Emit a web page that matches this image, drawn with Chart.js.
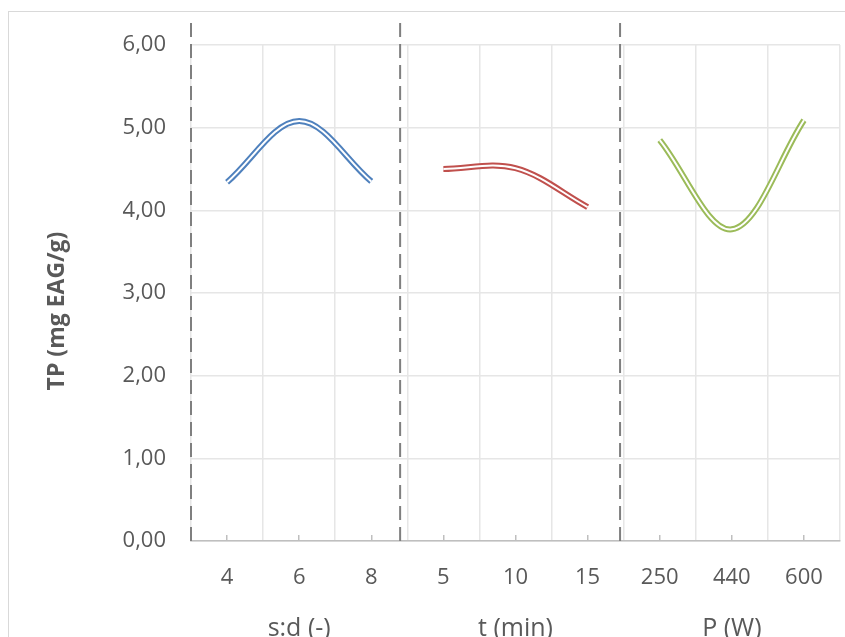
<!DOCTYPE html>
<html lang="en">
<head>
<meta charset="UTF-8" />
<title>TP vs s:d, t, P</title>
<script src="https://cdn.jsdelivr.net/npm/chart.js"></script>
<style>
    html, body {
        margin: 0;
        padding: 0;
        background: #ffffff;
        overflow: hidden;
    }
    .frame {
        position: absolute;
        left: 8px;
        top: 11px;
        width: 900px;
        height: 700px;
        border: 1px solid #d9d9d9;
    }
    #chart {
        position: absolute;
        left: 0;
        top: 0;
    }
</style>
</head>
<body>
<div class="frame"></div>
<canvas id="chart" width="845" height="637"></canvas>
<script>
// categories of the three factors, in plotting order (one slot per category)
const catLabels = ['4', '6', '8', '5', '10', '15', '250', '440', '600'];
const catPos = [0.5, 1.5, 2.5, 3.5, 4.5, 5.5, 6.5, 7.5, 8.5];
const groupTitles = ['s:d (-)', 't (min)', 'P (W)'];
const groupCenter = [1.5, 4.5, 7.5];
const yTicks = [0, 1, 2, 3, 4, 5, 6];
const yTitle = 'TP (mg EAG/g)';

// dashed separators between the factor panels
const separators = [0, 2.9, 5.95];
const sepTop = 6.35;

// TP values (mg EAG/g)
const tpSolvent = [4.34, 5.08, 4.35];
const tpTime = [4.50, 4.51, 4.04];
const tpPower = [4.85, 3.77, 5.09];

const fontFamily = '"Open Sans", "Noto Sans", sans-serif';
const textColor = '#595959';

// double line: a wide coloured stroke with a thin white one on top
function doubleLine(values, offset, color) {
    const pts = values.map((v, i) => ({ x: catPos[offset + i], y: v }));
    return [
        { data: pts, borderColor: color, borderWidth: 6, tension: 0.35, order: 2 },
        { data: pts, borderColor: '#ffffff', borderWidth: 2, tension: 0.35, order: 1 }
    ];
}

const datasets = [
    ...separators.map(s => ({
        data: [{ x: s, y: 0 }, { x: s, y: sepTop }],
        borderColor: '#7f7f7f',
        borderWidth: 2,
        borderDash: [14, 7],
        tension: 0,
        clip: false,
        order: 3
    })),
    ...doubleLine(tpSolvent, 0, '#4f81bd'),
    ...doubleLine(tpTime, 3, '#c0504d'),
    ...doubleLine(tpPower, 6, '#9bbb59')
];

// axis titles: group names under the tick labels and the rotated y title
const axisText = {
    id: 'axisText',
    afterDraw(chart) {
        const { ctx, scales } = chart;
        ctx.save();
        ctx.fillStyle = textColor;
        ctx.textAlign = 'center';
        ctx.textBaseline = 'alphabetic';
        ctx.font = '25px ' + fontFamily;
        groupTitles.forEach((t, i) => {
            ctx.fillText(t, scales.x.getPixelForValue(groupCenter[i]), 636);
        });
        ctx.textBaseline = 'middle';
        ctx.translate(57, 311);
        ctx.rotate(-Math.PI / 2);
        ctx.font = 'bold 23px ' + fontFamily;
        ctx.fillText(yTitle, 0, 0);
        ctx.restore();
    }
};

new Chart(document.getElementById('chart'), {
    type: 'line',
    data: { datasets },
    plugins: [axisText],
    options: {
        responsive: false,
        animation: false,
        layout: { autoPadding: false, padding: { top: 45, right: 5, left: 0, bottom: 0 } },
        plugins: {
            legend: { display: false },
            tooltip: { enabled: false }
        },
        elements: {
            point: { radius: 0, hoverRadius: 0 },
            line: { borderCapStyle: 'butt', fill: false }
        },
        scales: {
            x: {
                type: 'linear',
                min: 0,
                max: 9,
                ticks: { display: false, stepSize: 1 },
                grid: { color: '#e6e6e6', lineWidth: 1.5, drawTicks: false },
                border: { color: '#bfbfbf', width: 1.5 },
                afterFit: s => { s.height = 0; s.paddingLeft = 0; s.paddingRight = 0; }
            },
            xl: {
                type: 'linear',
                position: 'bottom',
                min: 0,
                max: 9,
                afterBuildTicks: s => { s.ticks = catPos.map(v => ({ value: v })); },
                ticks: {
                    callback: (v, i) => catLabels[i],
                    autoSkip: false,
                    maxRotation: 0,
                    color: textColor,
                    font: { family: fontFamily, size: 22 },
                    padding: 30
                },
                grid: { drawOnChartArea: false, drawTicks: true, tickLength: -6, color: '#bfbfbf', lineWidth: 1.5 },
                border: { display: false },
                afterFit: s => { s.height = 96; s.paddingLeft = 0; s.paddingRight = 0; }
            },
            y: {
                min: 0,
                max: 6,
                afterBuildTicks: s => { s.ticks = yTicks.map(v => ({ value: v })); },
                ticks: {
                    callback: v => v.toFixed(2).replace('.', ','),
                    color: textColor,
                    font: { family: fontFamily, size: 22 },
                    padding: 25
                },
                grid: { color: '#e6e6e6', lineWidth: 1.5, drawTicks: false },
                border: { display: false },
                afterFit: s => { s.width = 191; }
            }
        }
    }
});
</script>
</body>
</html>
